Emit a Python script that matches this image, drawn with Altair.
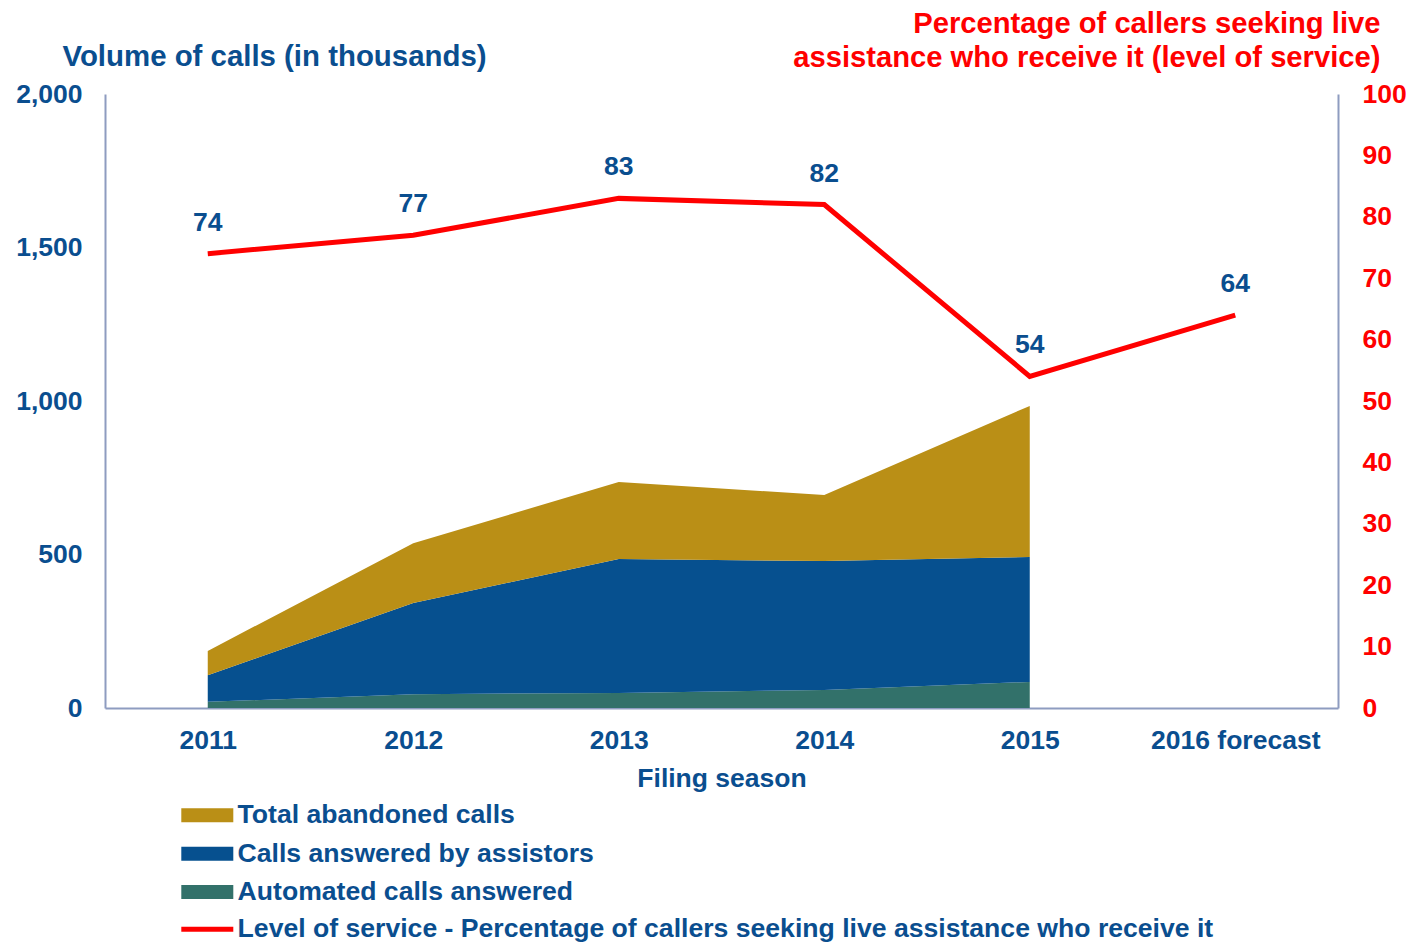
import altair as alt
import pandas as pd

# ---- data ----
seasons = ["2011", "2012", "2013", "2014", "2015", "2016 forecast"]
area_seasons = ["2011", "2012", "2013", "2014", "2015"]
automated = [20, 45, 49, 59, 85]
answered = [87, 297, 436, 420, 407]
abandoned = [79, 195, 251, 215, 492]
service_level = [74, 77, 83, 82, 54, 64]

series_names = ["Total abandoned calls", "Calls answered by assistors", "Automated calls answered"]
series_colors = ["#BA8F16", "#06508F", "#32716A"]
line_name = "Level of service - Percentage of callers seeking live assistance who receive it"

BLUE = "#0A4E8F"
RED = "#FF0000"
AXIS = "#8E9CC0"
FONT = "Liberation Sans"

rows = []
for i, s in enumerate(area_seasons):
    rows.append({"season": s, "series": series_names[2], "value": automated[i], "ord": 0})
    rows.append({"season": s, "series": series_names[1], "value": answered[i], "ord": 1})
    rows.append({"season": s, "series": series_names[0], "value": abandoned[i], "ord": 2})
area_df = pd.DataFrame(rows)

line_df = pd.DataFrame({"season": seasons, "pct": service_level, "series": [line_name] * len(seasons)})

xscale = alt.Scale(domain=seasons, type="point", padding=0.5)
x_axis = alt.Axis(title="Filing season", labelAngle=0, ticks=False, grid=False,
                  domainColor=AXIS, domainWidth=2,
                  labelFont=FONT, labelFontSize=26.5, labelFontWeight="bold", labelColor=BLUE,
                  labelPadding=19, labelBaseline="top",
                  titleFont=FONT, titleFontSize=26.5, titleFontWeight="bold", titleColor=BLUE,
                  titleBaseline="alphabetic", titleY=78)

right_axis = alt.Axis(orient="right", values=list(range(0, 101, 10)), ticks=False, grid=False,
                      domainColor=AXIS, domainWidth=2,
                      labelFont=FONT, labelFontSize=26.5, labelFontWeight="bold", labelColor=RED,
                      labelPadding=24, labelAlign="left",
                      title=["Percentage of callers seeking live",
                             "assistance who receive it (level of service)"],
                      titleAngle=0, titleFont=FONT, titleFontSize=29.2, titleFontWeight="bold",
                      titleColor=RED, titleAlign="right", titleBaseline="alphabetic",
                      titleX=42, titleY=-62, titleLineHeight=34)

sym_path = "M-2.6,-0.7L2.6,-0.7L2.6,0.7L-2.6,0.7Z"
line_path = "M-2.6,0L2.6,0"

area = alt.Chart(area_df).mark_area(opacity=1).encode(
    x=alt.X("season:N", scale=xscale, sort=seasons, axis=x_axis),
    y=alt.Y("value:Q", stack="zero", scale=alt.Scale(domain=[0, 2000]),
            axis=alt.Axis(orient="left", values=[0, 500, 1000, 1500, 2000], format=",.0f",
                          ticks=False, grid=False, domainColor=AXIS, domainWidth=2,
                          labelFont=FONT, labelFontSize=26.5, labelFontWeight="bold", labelColor=BLUE,
                          labelPadding=23,
                          title="Volume of calls (in thousands)", titleAngle=0,
                          titleFont=FONT, titleFontSize=29.4, titleFontWeight="bold", titleColor=BLUE,
                          titleAlign="left", titleBaseline="alphabetic", titleX=-43, titleY=-29)),
    fill=alt.Fill("series:N", scale=alt.Scale(domain=series_names, range=series_colors),
                  legend=alt.Legend(title=None, orient="none", legendX=89, legendY=708,
                                    direction="vertical", symbolType=sym_path, symbolSize=400,
                                    symbolStrokeWidth=0, labelFont=FONT, labelFontSize=26.6,
                                    labelFontWeight="bold", labelColor=BLUE, labelOffset=17,
                                    labelLimit=1200, rowPadding=11.4, padding=0)),
    order=alt.Order("ord:Q"),
)

line = alt.Chart(line_df).mark_line(strokeWidth=5).encode(
    x=alt.X("season:N", scale=xscale, sort=seasons, axis=x_axis),
    y=alt.Y("pct:Q", scale=alt.Scale(domain=[0, 100]), axis=right_axis),
    stroke=alt.Stroke("series:N", scale=alt.Scale(domain=[line_name], range=[RED]),
                      legend=alt.Legend(title=None, orient="none", legendX=89, legendY=822,
                                        symbolType=line_path, symbolSize=400, symbolStrokeWidth=5,
                                        symbolFillColor="transparent",
                                        labelFont=FONT, labelFontSize=26.6, labelFontWeight="bold",
                                        labelColor=BLUE, labelOffset=17, labelLimit=1200, padding=0)),
)

labels = alt.Chart(line_df).mark_text(
    font=FONT, fontSize=26.5, fontWeight="bold", color=BLUE, baseline="alphabetic", dy=-23
).encode(
    x=alt.X("season:N", scale=xscale, sort=seasons, axis=x_axis),
    y=alt.Y("pct:Q", scale=alt.Scale(domain=[0, 100]), axis=right_axis),
    text=alt.Text("pct:Q"),
)

right = alt.layer(line, labels)

chart = alt.layer(area, right).resolve_scale(y="independent").properties(
    width=1233, height=614,
    background="white",
    autosize=alt.AutoSizeParams(type="none"),
    padding={"left": 105, "top": 94, "right": 90, "bottom": 235},
).configure_view(strokeWidth=0, stroke="transparent")

chart.save("out.html", embed_options={"renderer": "svg", "actions": False})
